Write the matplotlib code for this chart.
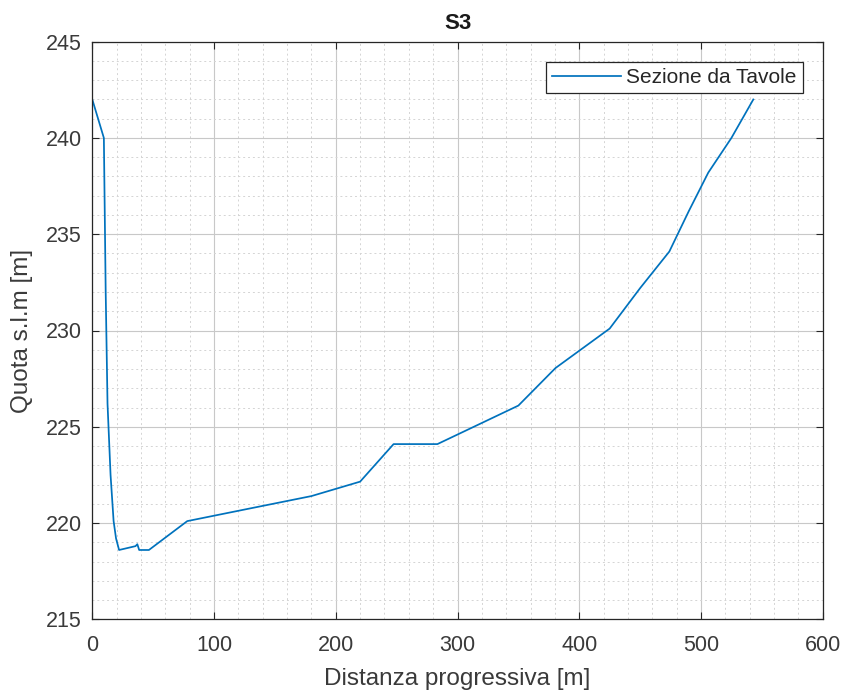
import matplotlib
matplotlib.use("Agg")
import matplotlib.pyplot as plt
from matplotlib.ticker import MultipleLocator

plt.rcParams['font.family'] = ['Liberation Sans', 'DejaVu Sans']

# Cross-section profile: progressive distance [m] vs elevation [m a.s.l.]
distanza = [0, 9.5, 11, 12.5, 15, 17.5, 19.5, 22, 35.5, 37, 38.5, 46.5, 78,
            125, 180, 220, 247.5, 283.5, 350, 380.5, 425, 450, 474, 490,
            506, 525, 543]
quota = [242.0, 240.0, 232.0, 226.2, 222.5, 220.1, 219.2, 218.6, 218.8, 218.9,
         218.6, 218.6, 220.1, 220.7, 221.4, 222.15, 224.1, 224.1, 226.1,
         228.05, 230.1, 232.2, 234.1, 236.2, 238.2, 240.0, 242.0]

titolo = "S3"
etichetta_serie = "Sezione da Tavole"
x_ticks = [0, 100, 200, 300, 400, 500, 600]
y_ticks = [215, 220, 225, 230, 235, 240, 245]

W, H = 842, 693
fig = plt.figure(figsize=(W / 100, H / 100), dpi=100)
left, right, top, bottom = 92.3, 822.7, 41.7, 619.3
ax = fig.add_axes([left / W, 1 - bottom / H, (right - left) / W, (bottom - top) / H])

ax.plot(distanza, quota, color='#0072BD', linewidth=1.25, label=etichetta_serie)

ax.set_xlim(x_ticks[0], x_ticks[-1])
ax.set_ylim(y_ticks[0], y_ticks[-1])
ax.set_xticks(x_ticks)
ax.set_yticks(y_ticks)
ax.xaxis.set_minor_locator(MultipleLocator(20))
ax.yaxis.set_minor_locator(MultipleLocator(1))

ax.grid(True, which='major', color='#c8c8c8', linewidth=0.8, linestyle='-')
ax.grid(True, which='minor', color='#d4d4d4', linewidth=0.7, linestyle=(0, (2, 3)))
ax.set_axisbelow(True)

ax.tick_params(which='major', direction='in', length=5, width=0.8,
               top=True, right=True, labelsize=15.5, labelcolor='#3a3a3a',
               color='#262626')
ax.tick_params(axis='x', which='major', pad=11)
ax.tick_params(axis='y', which='major', pad=7.5)
ax.tick_params(which='minor', length=0, top=True, right=True)
for s in ax.spines.values():
    s.set_color('#262626')
    s.set_linewidth(0.9)

ax.set_title(titolo, fontsize=16, fontweight='bold', color='#1a1a1a', pad=9)
ax.set_xlabel("Distanza progressiva [m]", fontsize=17.5, color='#3a3a3a', labelpad=9)
ax.set_ylabel("Quota s.l.m [m]", fontsize=17.5, color='#3a3a3a', labelpad=9)

leg = ax.legend(loc='upper right', fontsize=15, frameon=True, fancybox=False,
                edgecolor='#262626', framealpha=1, borderpad=0.3,
                handlelength=3.3, handletextpad=0.25, borderaxespad=0.96)
leg.get_frame().set_linewidth(0.9)
for t in leg.get_texts():
    t.set_color('#262626')

fig.savefig("out.png", dpi=100)
